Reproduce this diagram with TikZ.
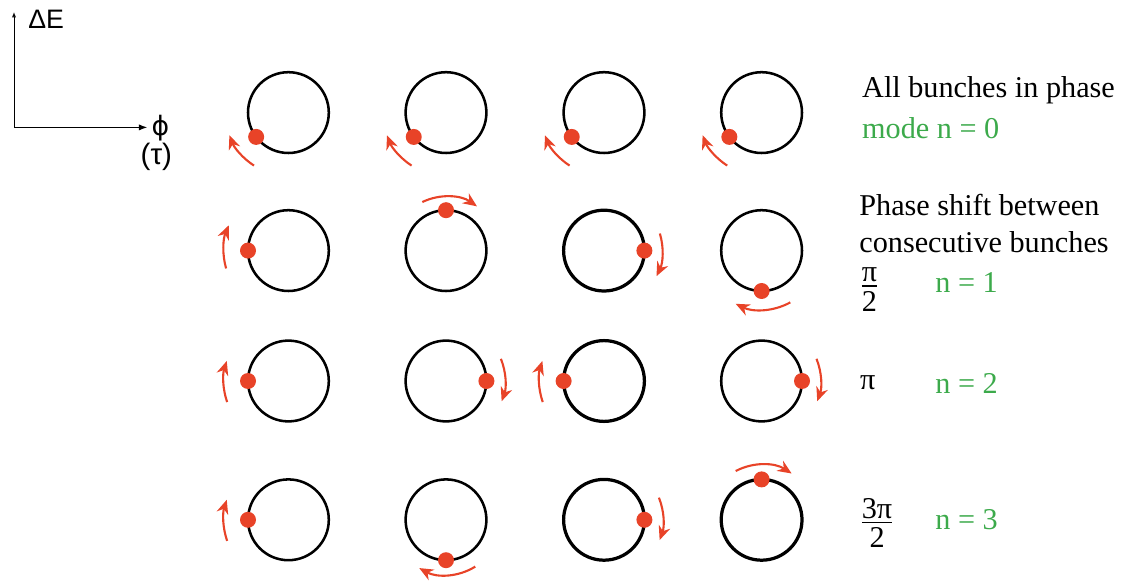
\documentclass[tikz,border=0pt]{standalone}
\usepackage{amsmath}
\usepackage{fontspec}
\setmainfont{Liberation Serif}
\newfontfamily\axisfont{Liberation Sans}
\newfontfamily\phifont{DejaVu Sans}
\usetikzlibrary{arrows.meta}
\usepackage{xcolor}
\definecolor{bunchred}{RGB}{232,67,40}
\definecolor{modegreen}{RGB}{60,170,75}

\begin{document}
\begin{tikzpicture}[
    orbit/.style={line width=1.8pt, black},
    orbitbold/.style={line width=2.3pt, black},
    bunchdot/.style={fill=bunchred},
    motion/.style={line width=1.5pt, bunchred, -{Stealth[length=10pt,width=8.5pt]}},
    label/.style={anchor=west, font=\fontsize{21.5}{26}\selectfont},
    fraclabel/.style={label, inner sep=0.5pt},
    modelabel/.style={label, text=modegreen},
    axislabel/.style={inner sep=0pt, font=\axisfont\fontsize{19}{22}\selectfont}
]
        \useasboundingbox (0,0) rectangle (28.15,14.575);

        % Axes
        \coordinate (O) at (0.35, 11.39);
        \coordinate (Etop) at (0.35, 14.28);
        \coordinate (Phiend) at (3.68, 11.39);
        \draw[line width=0.7pt, -{Latex[open,length=4pt,width=3pt]}] (O) -- (Etop);
        \draw[line width=0.7pt, -{Latex[length=6pt,width=4.5pt]}] (O) -- (Phiend);
        \node[axislabel, anchor=west] (dE) at (0.70, 14.1) {ΔE};
        \node[axislabel] (phi) at (4.01, 11.38) {\phifont ϕ};
        \node[axislabel, font=\axisfont\fontsize{21}{24}\selectfont] (tau) at (3.91, 10.65) {(τ)};

        % Centres of the orbits (row, column)
        \coordinate (C11) at (7.21, 11.76);   % Row 1
        \coordinate (C12) at (11.15, 11.76);
        \coordinate (C13) at (15.10, 11.76);
        \coordinate (C14) at (19.04, 11.76);
        \coordinate (C21) at (7.21, 8.31);    % Row 2
        \coordinate (C22) at (11.15, 8.31);
        \coordinate (C23) at (15.10, 8.31);
        \coordinate (C24) at (19.04, 8.31);
        \coordinate (C31) at (7.21, 5.05);    % Row 3
        \coordinate (C32) at (11.15, 5.05);
        \coordinate (C33) at (15.10, 5.05);
        \coordinate (C34) at (19.04, 5.05);
        \coordinate (C41) at (7.21, 1.58);    % Row 4
        \coordinate (C42) at (11.15, 1.58);
        \coordinate (C43) at (15.10, 1.58);
        \coordinate (C44) at (19.04, 1.58);

        % Draw orbits
        \draw[orbit] (C11) circle (1.01);
        \draw[orbit] (C12) circle (1.01);
        \draw[orbit] (C13) circle (1.01);
        \draw[orbit] (C14) circle (1.01);
        \draw[orbit] (C21) circle (1.01);
        \draw[orbit] (C22) circle (1.01);
        \draw[orbitbold] (C23) circle (1.01);
        \draw[orbit] (C24) circle (1.01);
        \draw[orbit] (C31) circle (1.01);
        \draw[orbit] (C32) circle (1.01);
        \draw[orbitbold] (C33) circle (1.01);
        \draw[orbit] (C34) circle (1.01);
        \draw[orbit] (C41) circle (1.01);
        \draw[orbit] (C42) circle (1.01);
        \draw[orbitbold] (C43) circle (1.01);
        \draw[orbitbold] (C44) circle (1.01);

        % Bunches: all in phase
        \fill[bunchdot] ([shift={(217:1.01)}]C11) circle (0.2);
        \fill[bunchdot] ([shift={(217:1.01)}]C12) circle (0.2);
        \fill[bunchdot] ([shift={(217:1.01)}]C13) circle (0.2);
        \fill[bunchdot] ([shift={(217:1.01)}]C14) circle (0.2);
        % Bunches: shift pi/2
        \fill[bunchdot] ([shift={(180:1.01)}]C21) circle (0.2);
        \fill[bunchdot] ([shift={(90:1.01)}]C22) circle (0.2);
        \fill[bunchdot] ([shift={(0:1.01)}]C23) circle (0.2);
        \fill[bunchdot] ([shift={(270:1.01)}]C24) circle (0.2);
        % Bunches: shift pi
        \fill[bunchdot] ([shift={(180:1.01)}]C31) circle (0.2);
        \fill[bunchdot] ([shift={(0:1.01)}]C32) circle (0.2);
        \fill[bunchdot] ([shift={(180:1.01)}]C33) circle (0.2);
        \fill[bunchdot] ([shift={(0:1.01)}]C34) circle (0.2);
        % Bunches: shift 3pi/2
        \fill[bunchdot] ([shift={(180:1.01)}]C41) circle (0.2);
        \fill[bunchdot] ([shift={(270:1.01)}]C42) circle (0.2);
        \fill[bunchdot] ([shift={(0:1.01)}]C43) circle (0.2);
        \fill[bunchdot] ([shift={(90:1.01)}]C44) circle (0.2);

        % Direction of motion
        \draw[motion] ([shift={(237:1.58)}]C11) arc[start angle=237, end angle=201, radius=1.58];
        \draw[motion] ([shift={(237:1.58)}]C12) arc[start angle=237, end angle=201, radius=1.58];
        \draw[motion] ([shift={(237:1.58)}]C13) arc[start angle=237, end angle=201, radius=1.58];
        \draw[motion] ([shift={(237:1.58)}]C14) arc[start angle=237, end angle=201, radius=1.58];

        \draw[motion] ([shift={(196:1.62)}]C21) arc[start angle=196, end angle=157, radius=1.62];
        \draw[motion] ([shift={(116:1.35)}]C22) arc[start angle=116, end angle=55, radius=1.35];
        \draw[motion] ([shift={(17:1.46)}]C23) arc[start angle=17, end angle=-26, radius=1.46];
        \draw[motion] ([shift={(299:1.48)}]C24) arc[start angle=299, end angle=244, radius=1.48];

        \draw[motion] ([shift={(199:1.62)}]C31) arc[start angle=199, end angle=162, radius=1.62];
        \draw[motion] ([shift={(22:1.48)}]C32) arc[start angle=22, end angle=-20, radius=1.48];
        \draw[motion] ([shift={(199:1.62)}]C33) arc[start angle=199, end angle=162, radius=1.62];
        \draw[motion] ([shift={(22:1.48)}]C34) arc[start angle=22, end angle=-20, radius=1.48];

        \draw[motion] ([shift={(199:1.62)}]C41) arc[start angle=199, end angle=162, radius=1.62];
        \draw[motion] ([shift={(302:1.38)}]C42) arc[start angle=302, end angle=241, radius=1.38];
        \draw[motion] ([shift={(22:1.48)}]C43) arc[start angle=22, end angle=-20, radius=1.48];
        \draw[motion] ([shift={(118:1.38)}]C44) arc[start angle=118, end angle=57, radius=1.38];

        % Labels on the right
        \node[label] (inphase) at (21.43, 12.33) {All bunches in phase};
        \node[modelabel] (mode0) at (21.43, 11.38) {mode n = 0};
        \node[label] (shift) at (21.36, 9.45) {Phase shift between};
        \node[label] (consec) at (21.36, 8.52) {consecutive bunches};
        \node[fraclabel] (half) at (21.48, 7.33) {$\tfrac{\mbox{π}}{\mbox{\rule{0pt}{17pt}2}}$};
        \node[modelabel] (mode1) at (23.26, 7.52) {n = 1};
        \node[label] (full) at (21.38, 5.00) {π};
        \node[modelabel] (mode2) at (23.26, 5.00) {n = 2};
        \node[fraclabel] (threehalf) at (21.48, 1.50) {$\tfrac{\mbox{3π}}{\mbox{\rule{0pt}{17pt}2}}$};
        \node[modelabel] (mode3) at (23.26, 1.58) {n = 3};

    \end{tikzpicture}
\end{document}
